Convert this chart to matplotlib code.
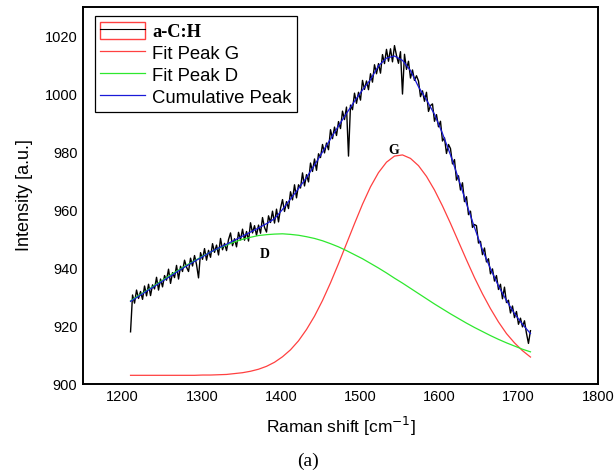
import numpy as np
import matplotlib
matplotlib.use("Agg")
import matplotlib.pyplot as plt
from matplotlib.lines import Line2D
from matplotlib.patches import Rectangle

# sample grid of the fitted curves (read every ~10 cm-1)
fit_x = np.linspace(1210, 1715, 51)

peak_g = [903.0, 903.0, 903.0, 903.0, 903.0, 903.0, 903.0, 903.0, 903.0, 903.1,
          903.1, 903.2, 903.3, 903.6, 903.9, 904.4, 905.1, 906.1, 907.5, 909.4,
          911.8, 914.9, 918.8, 923.4, 928.8, 934.9, 941.5, 948.4, 955.3, 962.0,
          968.0, 972.9, 976.5, 978.6, 979.0, 977.8, 975.3, 971.6, 966.9, 961.4,
          955.4, 949.1, 942.8, 936.7, 931.1, 926.0, 921.4, 917.4, 914.2, 911.5,
          909.3]

peak_d = [928.7, 930.5, 932.2, 934.0, 935.8, 937.6, 939.3, 941.0, 942.5, 944.1,
          945.5, 946.8, 947.9, 949.0, 949.9, 950.6, 951.2, 951.5, 951.7, 951.8,
          951.6, 951.3, 950.8, 950.2, 949.4, 948.4, 947.3, 946.0, 944.6, 943.2,
          941.6, 940.0, 938.3, 936.5, 934.8, 933.0, 931.2, 929.4, 927.6, 925.9,
          924.2, 922.6, 921.0, 919.5, 918.1, 916.7, 915.4, 914.2, 913.1, 912.0,
          911.1]

cumulative = [928.5, 930.2, 932.0, 933.7, 935.5, 937.2, 939.0, 940.7, 942.3, 943.9,
              945.5, 946.9, 948.2, 949.6, 951.0, 952.4, 953.8, 955.3, 957.0, 960.2,
              963.8, 967.4, 971.2, 975.5, 980.0, 984.5, 989.0, 993.3, 997.5, 1001.4,
              1005.0, 1009.7, 1012.4, 1013.1, 1011.6, 1008.1, 1002.5, 998.0, 993.0, 986.4,
              979.0, 970.8, 962.2, 954.0, 946.2, 939.8, 933.8, 928.8, 924.3, 920.6,
              917.4]

# measured spectrum (a-C:H), read every ~2.5 cm-1
spec_x = np.linspace(1210, 1715, 201)
spectrum = [
    918.0, 930.7, 927.9, 932.4, 929.5, 931.9, 929.2, 933.8,
    930.4, 934.4, 930.5, 934.2, 932.8, 936.8, 932.4, 936.2,
    933.5, 937.4, 935.8, 939.6, 934.7, 938.4, 936.7, 940.9,
    936.2, 940.6, 938.8, 942.7, 940.3, 938.8, 943.4, 940.7,
    944.3, 941.2, 936.6, 945.3, 943.0, 946.7, 942.7, 946.1,
    943.7, 948.4, 945.4, 947.9, 944.5, 950.2, 946.3, 948.5,
    946.0, 949.8, 952.1, 947.7, 950.1, 947.3, 952.3, 949.7,
    953.4, 949.6, 952.6, 949.3, 955.6, 952.1, 954.6, 951.3,
    954.8, 952.0, 957.4, 954.0, 952.4, 958.0, 955.7, 959.6,
    955.5, 960.3, 955.9, 960.6, 963.6, 959.5, 962.9, 960.5,
    966.3, 963.5, 968.7, 964.2, 968.7, 967.6, 972.8, 968.3,
    972.2, 969.7, 976.2, 973.3, 977.6, 973.7, 979.4, 978.1,
    982.6, 979.7, 983.1, 980.8, 987.7, 984.6, 988.6, 985.7,
    990.5, 988.1, 994.1, 991.2, 995.5, 978.6, 996.2, 994.6,
    1000.3, 996.8, 1000.6, 997.9, 1004.7, 1001.6, 1004.5, 1001.5,
    1007.0, 1004.1, 1010.1, 1007.0, 1010.5, 1007.2, 1013.6, 1010.5,
    1015.4, 1011.3, 1015.6, 1011.1, 1016.7, 1013.3, 1010.6, 1014.6,
    1000.0, 1013.7, 1008.5, 1011.3, 1005.5, 1008.3, 1004.7, 1006.3,
    1004.5, 999.1, 1001.1, 997.5, 1000.6, 994.0, 996.0, 996.6,
    990.6, 992.9, 988.7, 990.6, 983.8, 984.9, 979.5, 982.6,
    981.2, 975.9, 977.4, 970.3, 971.8, 966.9, 969.4, 962.9,
    964.6, 958.4, 959.6, 954.0, 955.0, 954.6, 948.6, 949.2,
    944.6, 946.9, 942.1, 943.2, 938.0, 939.7, 935.5, 937.4,
    932.6, 934.4, 929.4, 933.4, 928.1, 928.9, 924.5, 926.9,
    922.9, 925.0, 920.6, 922.7, 919.7, 921.8, 917.5, 914.0,
    918.4,
]

legend_labels = ["a-C:H", "Fit Peak G", "Fit Peak D", "Cumulative Peak"]

red = '#ff4040'
green = '#2ee82e'
blue = '#1a1ad8'

plt.rcParams['font.family'] = ['Liberation Sans', 'DejaVu Sans']

fig = plt.figure(figsize=(6.15, 4.72), dpi=100)
ax = fig.add_axes([0.135, 0.1864, 0.837, 0.7987])

ax.plot(spec_x, spectrum, color='black', lw=1.0)
ax.plot(fit_x, peak_g, color=red, lw=0.9)
ax.plot(fit_x, peak_d, color=green, lw=0.9)
ax.plot(fit_x, cumulative, color=blue, lw=0.9)

ax.set_xlim(1150, 1800)
ax.set_ylim(900, 1030)
ax.set_xticks(range(1200, 1801, 100))
ax.set_yticks(range(900, 1021, 20))
ax.tick_params(length=0, labelsize=10.5, pad=4)
for s in ax.spines.values():
    s.set_linewidth(1.4)

ax.set_xlabel("Raman shift [cm$^{-1}$]", fontsize=12.5, labelpad=8)
ax.set_ylabel("Intensity [a.u.]", fontsize=13, labelpad=8)

ax.text(1542, 980.5, "G", family='Liberation Serif', fontweight='bold', fontsize=10,
        ha='center', va='center')
ax.text(1380, 944.5, "D", family='Liberation Serif', fontweight='bold', fontsize=10,
        ha='center', va='center')

# legend: first entry is a red box with a black line through it
box = Rectangle((0, 0), 1, 1, facecolor='none', edgecolor=red, lw=1.0)
line_data = Line2D([], [], color='black', lw=0.8)
handles = [(box, line_data),
           Line2D([], [], color=red, lw=0.9),
           Line2D([], [], color=green, lw=0.9),
           Line2D([], [], color=blue, lw=0.9)]
leg = ax.legend(handles, legend_labels, loc='upper left', bbox_to_anchor=(0.023, 0.976),
                borderaxespad=0, fontsize=13.3, handlelength=2.4, handleheight=1.1,
                handletextpad=0.4, labelspacing=0.15, borderpad=0.3,
                fancybox=False, framealpha=1, edgecolor='black')
leg.get_frame().set_linewidth(0.9)
leg.get_texts()[0].set_fontfamily('Liberation Serif')
leg.get_texts()[0].set_fontweight('bold')

fig.text(0.5, 0.012, "(a)", family='Liberation Serif', fontsize=14, ha='center')

fig.savefig("out.png", dpi=100)
